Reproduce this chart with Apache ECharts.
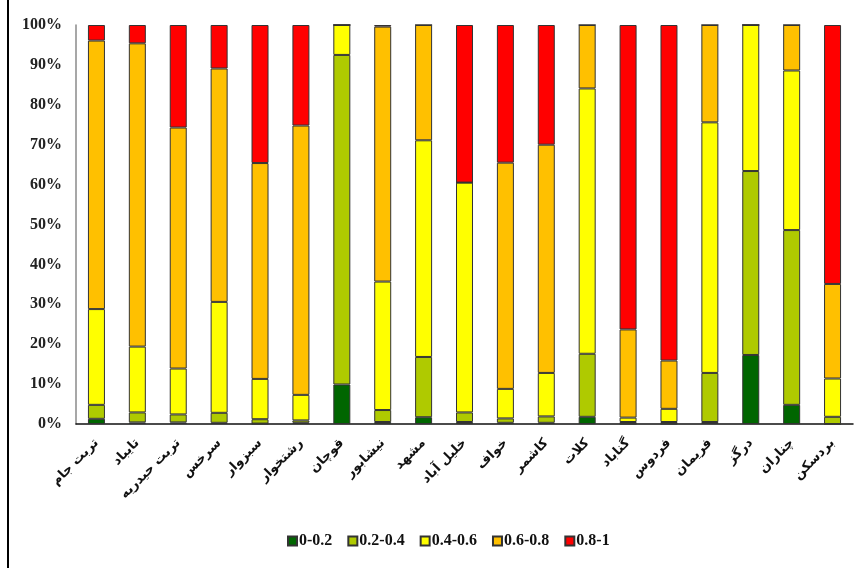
<!DOCTYPE html>
<html>
<head>
<meta charset="utf-8">
<script src="https://cdn.jsdelivr.net/npm/echarts@6/dist/echarts.min.js"></script>
<style>
  html, body { margin: 0; padding: 0; background: #fff; }
  #chart { width: 861px; height: 568px; }
</style>
</head>
<body>
<div id="chart"></div>
<script>
// Counties (categories)
const categories = ['تربت جام','تایباد','تربت حیدریه','سرخس','سبزوار','رشتخوار','قوچان','نیشابور','مشهد','خلیل آباد','خواف','کاشمر','کلات','گناباد','فردوس','فریمان','درگز','چناران','بردسکن'];

// Share (%) of each class per county
const class0to02   = [1.3, 0.4, 0.4, 0.3, 0.1, 0.3, 9.9, 0.5, 1.7, 0.5, 0.3, 0.3, 1.8, 0.1, 0.1, 0.5, 17.3, 4.8, 0];
const class02to04  = [3.5, 2.5, 2.0, 2.5, 1.1, 0.6, 82.6, 3.0, 15.1, 2.4, 1.1, 1.6, 15.8, 0.4, 0.4, 12.3, 46.1, 43.8, 1.8];
const class04to06  = [24.0, 16.5, 11.5, 27.8, 10.1, 6.4, 7.5, 32.2, 54.3, 57.6, 7.4, 10.9, 66.5, 1.1, 3.3, 62.8, 36.6, 40.0, 9.6];
const class06to08  = [67.3, 76.0, 60.4, 58.5, 54.1, 67.5, 0, 63.9, 28.9, 0, 56.7, 57.2, 15.9, 22.1, 12.1, 24.4, 0, 11.4, 23.7];
const class08to1   = [3.9, 4.6, 25.7, 10.9, 34.6, 25.2, 0, 0.4, 0, 39.5, 34.5, 30.0, 0, 76.3, 84.1, 0, 0, 0, 64.9];

const seriesNames = ['0-0.2', '0.2-0.4', '0.4-0.6', '0.6-0.8', '0.8-1'];
const seriesData = [class0to02, class02to04, class04to06, class06to08, class08to1];
const seriesColors = ['#006600', '#AFCA00', '#FFFF00', '#FFC000', '#FF0000'];

const yTicks = { min: 0, max: 100, interval: 10 };

const chart = echarts.init(document.getElementById('chart'), null, { renderer: 'canvas' });

const serifBold = { fontFamily: '"Liberation Serif", "Times New Roman", serif', fontWeight: 'bold' };

chart.setOption({
  animation: false,
  backgroundColor: '#fff',
  grid: { left: 76, right: 8, top: 25, bottom: 144, containLabel: false },
  legend: {
    bottom: 14,
    left: 282,
    itemWidth: 9,
    itemHeight: 9,
    itemGap: 15,
    icon: 'rect',
    textStyle: Object.assign({ fontSize: 16, color: '#111', padding: [0, 0, 0, -3] }, serifBold),
    data: seriesNames
  },
  xAxis: {
    type: 'category',
    data: categories,
    axisLine: { lineStyle: { color: '#111', width: 1.5 } },
    axisTick: { show: false },
    axisLabel: {
      rotate: 45,
      interval: 0,
      margin: 17,
      fontSize: 13,
      fontWeight: 'bold',
      fontFamily: '"DejaVu Sans", "Noto Sans", sans-serif',
      color: '#111'
    }
  },
  yAxis: {
    type: 'value',
    min: yTicks.min,
    max: yTicks.max,
    interval: yTicks.interval,
    axisLine: { show: true, lineStyle: { color: '#8a8a8a', width: 1.5 } },
    axisTick: { show: false },
    splitLine: { show: false },
    axisLabel: Object.assign({
      formatter: '{value}%',
      fontSize: 16,
      color: '#222',
      margin: 14
    }, serifBold)
  },
  series: seriesData.map((d, i) => ({
    name: seriesNames[i],
    type: 'bar',
    stack: 'total',
    barWidth: 17,
    data: d,
    itemStyle: { color: seriesColors[i], borderColor: '#333', borderWidth: 1 }
  })),
  graphic: [{
    type: 'line',
    shape: { x1: 8, y1: 0, x2: 8, y2: 568 },
    style: { stroke: '#000', lineWidth: 2 }
  }]
});
</script>
</body>
</html>
